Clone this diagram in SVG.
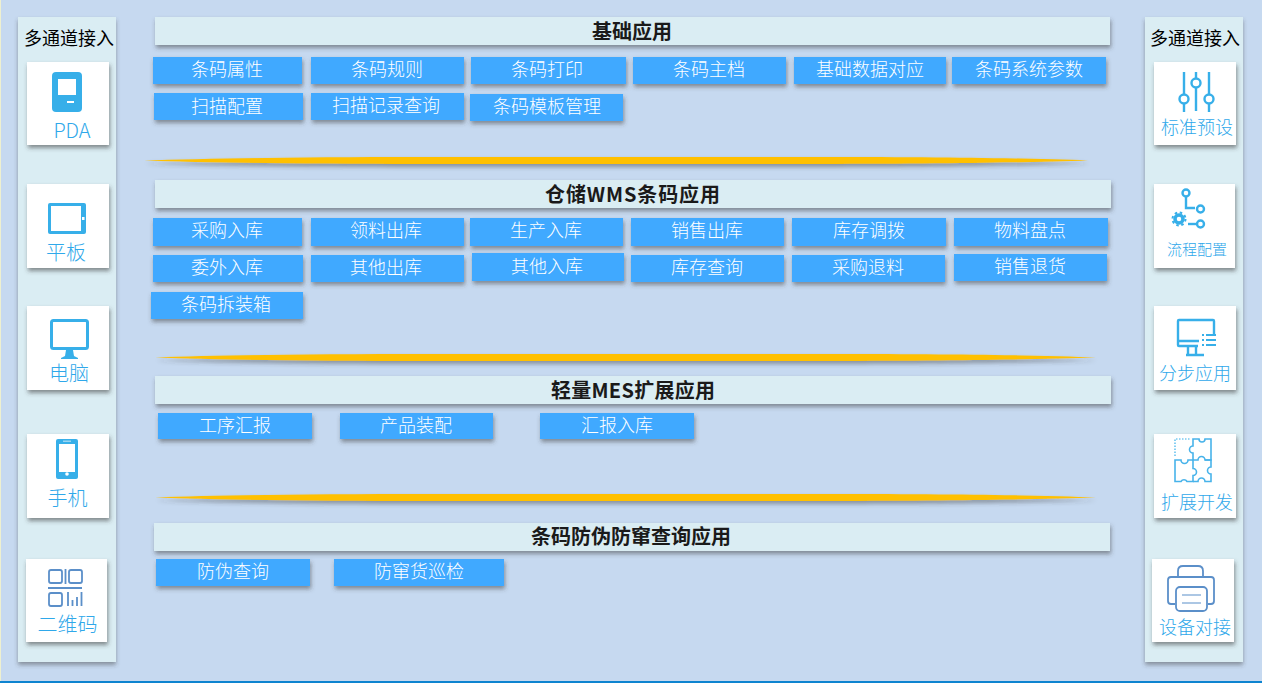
<svg xmlns="http://www.w3.org/2000/svg" width="1262" height="683" viewBox="0 0 1262 683">
<defs>
<filter id="sh" x="-10%" y="-30%" width="120%" height="170%"><feDropShadow dx="1" dy="3" stdDeviation="2" flood-color="#3a3a3a" flood-opacity=".5"/></filter>
<filter id="shp" x="-20%" y="-5%" width="140%" height="110%"><feDropShadow dx="0" dy="3" stdDeviation="2.2" flood-color="#3a3a3a" flood-opacity=".45"/></filter>
<filter id="shc" x="-15%" y="-15%" width="130%" height="130%"><feDropShadow dx="1" dy="3" stdDeviation="2" flood-color="#3a3a3a" flood-opacity=".55"/></filter>
<filter id="shg" x="-2%" y="-150%" width="104%" height="500%"><feDropShadow dx="1" dy="3" stdDeviation="2" flood-color="#3a3a3a" flood-opacity=".45"/></filter>
</defs>
<style>
text{font-family:"Noto Sans CJK SC","Noto Sans",sans-serif;text-anchor:middle}
.p{fill:#DAEDF3;filter:url(#shp)}
.c{fill:#fff;filter:url(#shc)}
.t{fill:#DAEDF3;filter:url(#sh)}
.tt{font-size:20px;font-weight:700;fill:#1a1a1a;transform:translateY(1px)}
.b{fill:#3FA9FF;filter:url(#sh)}
.bt{font-size:18px;fill:#fff;font-weight:300;transform:translate(-1px,1px)}
.h{font-size:18px;fill:#000;font-weight:400;transform:translateY(1px)}
.l{font-size:20px;fill:#2FA8EA;font-weight:300}
.r{font-size:18px;fill:#2FA8EA;font-weight:300}
.g{fill:#FFC000;filter:url(#shg)}
.ic{fill:#37AFE9}
.s{fill:none;stroke:#37AFE9;stroke-width:2.4}
.z{fill:none;stroke:#48B3EA;stroke-width:1.600}
.q{fill:none;stroke:#5B8FC9;stroke-width:1.800}
</style>
<rect width="1262" height="683" fill="#C6D9F0"/>
<rect width="1" height="683" fill="#EEF0D0"/>
<rect y="681" width="1262" height="2" fill="#0E84D0"/>

<g id="left-panel">
<rect class="p" x="18" y="17" width="98" height="645"/>
<text class="h" x="69" y="44">多通道接入</text>
</g>
<g id="right-panel">
<rect class="p" x="1145" y="17" width="98" height="645"/>
<text class="h" x="1195" y="44">多通道接入</text>
</g>

<g id="card-pda"><rect class="c" x="27" y="62" width="82" height="83"/>
<rect class="ic" x="52" y="72" width="30" height="40" rx="4"/><rect x="58" y="79" width="18" height="16" fill="#fff"/><rect x="67" y="101" width="7" height="2" fill="#fff"/>
<text class="l" x="72" y="138">PDA</text></g>
<g id="card-tablet"><rect class="c" x="27" y="184" width="82" height="84"/>
<rect class="ic" x="48" y="203" width="38" height="31" rx="2"/><rect x="51" y="206" width="30" height="25" fill="#fff"/><rect x="82" y="217" width="2.500" height="3" fill="#fff"/>
<text class="l" x="66" y="260">平板</text></g>
<g id="card-pc"><rect class="c" x="27" y="306" width="82" height="84"/>
<rect x="51.500" y="320.500" width="36" height="28" rx="2" fill="#fff" stroke="#37AFE9" stroke-width="3"/><path class="ic" d="M66 350h7l1 6 4 2v1H61v-1l4-2z"/>
<text class="l" x="69" y="381">电脑</text></g>
<g id="card-phone"><rect class="c" x="27" y="434" width="82" height="84"/>
<rect class="ic" x="56" y="439" width="22" height="40" rx="2"/><rect x="59" y="444" width="16" height="28" fill="#fff"/><circle cx="67" cy="474" r="1.800" fill="#fff"/><rect x="63" y="440.500" width="8" height="1.500" fill="#9ad5f2"/>
<text class="l" x="67.500" y="506">手机</text></g>
<g id="card-qr"><rect class="c" x="26" y="559" width="81" height="83"/>
<rect class="q" x="49" y="570" width="13" height="13" rx="2"/><rect class="q" x="69" y="570" width="13" height="13" rx="2"/><path class="q" d="M65.500 569v15M48 588h34"/><rect class="q" x="49" y="593" width="13" height="13" rx="2"/><path class="q" d="M68 592v14M72.500 600v6M77 597v9M81.500 592v14"/>
<text class="l" x="67.500" y="632">二维码</text></g>

<g id="card-preset"><rect class="c" x="1154" y="62" width="82" height="83"/>
<path class="s" d="M1184 72v22m0 10v8M1196 72v6m0 10v23M1209 72v22m0 10v8"/>
<circle class="s" cx="1184" cy="99" r="4.500"/><circle class="s" cx="1196" cy="83" r="4.500"/><circle class="s" cx="1209" cy="99" r="4.500"/>
<text class="r" x="1197" y="134">标准预设</text></g>
<g id="card-flow"><rect class="c" x="1154" y="184" width="81" height="84"/>
<circle class="s" cx="1186" cy="193" r="3.500"/><path class="s" stroke-width="3" d="M1186 197v11h9"/><circle class="s" cx="1200.500" cy="209" r="3.500"/><path class="s" stroke-width="3" d="M1188 224h8"/><circle class="s" cx="1200.500" cy="224" r="3.500"/>
<circle cx="1179" cy="219" r="4" fill="none" stroke="#37AFE9" stroke-width="3.500"/><circle cx="1179" cy="219" r="6.500" fill="none" stroke="#37AFE9" stroke-width="2" stroke-dasharray="2.500 2.600"/>
<text x="1197" y="255" font-size="15" fill="#2FA8EA" font-weight="300">流程配置</text></g>
<g id="card-step"><rect class="c" x="1154" y="306" width="82" height="84"/>
<path class="s" stroke-width="2.500" d="M1214 334v-13q0-1-1-1h-34q-1 0-1 1v24q0 1 1 1h19M1178 341h21M1188 347v8M1196 347v8M1186 355h18"/>
<path class="ic" d="M1202 334h2v2h-2zM1206 334h10v2h-10zM1202 339h2v2h-2zM1206 339h10v2h-10zM1202 344h2v2h-2zM1206 344h10v2h-10z"/>
<text class="r" x="1195" y="380">分步应用</text></g>
<g id="card-ext"><rect class="c" x="1154" y="434" width="82" height="84"/>
<path fill="none" stroke="#37AFE9" stroke-width="1.200" stroke-dasharray="1.500 1.500" d="M1175 456v-17h15"/>
<path class="z" d="M1193 439v7a3.500 3.500 0 1 0 0 7v7h5a3.500 3.500 0 1 1 7 0h6v-21h-6a3 3 0 0 1-6 0z"/>
<path class="z" d="M1175 460v21.500h6a3.500 3.500 0 0 1 6 0h6v-6a3.500 3.500 0 1 0 0-7v-8.500h-5a3.500 3.500 0 0 1-7 0v-.001h-6z"/>
<path class="z" d="M1193 481.500h5a3.500 3.500 0 0 1 7 0h6v-7.500a3.500 3.500 0 0 1 0-7v-7h-6"/>
<text class="r" x="1197" y="509">扩展开发</text></g>
<g id="card-device"><rect class="c" x="1152" y="559" width="82" height="83"/>
<path class="q" d="M1178 577v-6q0-5 5-5h15q5 0 5 5v6"/><path class="q" d="M1175 604h-4q-3 0-3-3v-21q0-3 3-3h40q3 0 3 3v21q0 3-3 3h-3"/><rect class="q" x="1176" y="587" width="31" height="24" rx="4"/>
<path fill="none" stroke="#5B8FC9" stroke-width="1.200" d="M1182 595h19M1182 603h19"/>
<text class="r" x="1195" y="634">设备对接</text></g>

<g id="section-basic"><rect class="t" x="155" y="17" width="955" height="28"/><text class="tt" x="632" y="38">基础应用</text></g>
<g id="section-wms"><rect class="t" x="155" y="180" width="956" height="28"/><text class="tt" x="632.500" y="201" textLength="175">仓储WMS条码应用</text></g>
<g id="section-mes"><rect class="t" x="155" y="376" width="956" height="28"/><text class="tt" x="633" y="397" textLength="164">轻量MES扩展应用</text></g>
<g id="section-anti"><rect class="t" x="154" y="523" width="956" height="28"/><text class="tt" x="631" y="543">条码防伪防窜查询应用</text></g>

<g id="dividers">
<path class="g" d="M144 160.500C200 158.500 300 157 420 157H820C950 157 1040 158.500 1088 160.500C1040 162 950 164 820 164H420C300 164 200 162.500 144 160.500z"/>
<path class="g" d="M155 357.500C210 355.500 310 354 430 354H830C960 354 1050 355.500 1096 357.500C1050 359 960 361 830 361H430C310 361 210 359.500 155 357.500z"/>
<path class="g" d="M155 497.500C210 495.500 310 494 430 494H830C960 494 1050 495.500 1096 497.500C1050 499 960 501 830 501H430C310 501 210 499.500 155 497.500z"/>
</g>

<g id="n1"><rect class="b" x="153" y="57" width="149" height="27"/><text class="bt" x="228" y="75">条码属性</text></g>
<g id="n2"><rect class="b" x="311" y="57" width="153" height="27"/><text class="bt" x="388" y="75">条码规则</text></g>
<g id="n3"><rect class="b" x="471" y="57" width="155" height="27"/><text class="bt" x="548" y="75">条码打印</text></g>
<g id="n4"><rect class="b" x="633" y="57" width="153" height="27"/><text class="bt" x="710" y="75">条码主档</text></g>
<g id="n5"><rect class="b" x="794" y="57" width="152" height="27"/><text class="bt" x="871" y="75">基础数据对应</text></g>
<g id="n6"><rect class="b" x="952" y="57" width="154" height="27"/><text class="bt" x="1030" y="75">条码系统参数</text></g>
<g id="n7"><rect class="b" x="154" y="93" width="149" height="27"/><text class="bt" x="228" y="112">扫描配置</text></g>
<g id="n8"><rect class="b" x="311" y="93" width="153" height="27"/><text class="bt" x="387" y="111">扫描记录查询</text></g>
<g id="n9"><rect class="b" x="470" y="94" width="153" height="27"/><text class="bt" x="548" y="112">条码模板管理</text></g>

<g id="n10"><rect class="b" x="153" y="218" width="149" height="28"/><text class="bt" x="228" y="236">采购入库</text></g>
<g id="n11"><rect class="b" x="311" y="218" width="153" height="28"/><text class="bt" x="387" y="236">领料出库</text></g>
<g id="n12"><rect class="b" x="470" y="218" width="153" height="28"/><text class="bt" x="547" y="236">生产入库</text></g>
<g id="n13"><rect class="b" x="631" y="218" width="153" height="28"/><text class="bt" x="708" y="236">销售出库</text></g>
<g id="n14"><rect class="b" x="792" y="218" width="154" height="28"/><text class="bt" x="870" y="236">库存调拨</text></g>
<g id="n15"><rect class="b" x="954" y="218" width="154" height="28"/><text class="bt" x="1031" y="236">物料盘点</text></g>
<g id="n16"><rect class="b" x="153" y="255" width="150" height="27"/><text class="bt" x="228" y="273">委外入库</text></g>
<g id="n17"><rect class="b" x="311" y="255" width="153" height="27"/><text class="bt" x="387" y="273">其他出库</text></g>
<g id="n18"><rect class="b" x="472" y="253" width="152" height="28"/><text class="bt" x="548" y="272">其他入库</text></g>
<g id="n19"><rect class="b" x="631" y="255" width="153" height="27"/><text class="bt" x="708" y="273">库存查询</text></g>
<g id="n20"><rect class="b" x="792" y="255" width="153" height="27"/><text class="bt" x="869" y="273">采购退料</text></g>
<g id="n21"><rect class="b" x="954" y="254" width="153" height="27"/><text class="bt" x="1031" y="272">销售退货</text></g>
<g id="n22"><rect class="b" x="151" y="292" width="152" height="27"/><text class="bt" x="227" y="310">条码拆装箱</text></g>

<g id="n23"><rect class="b" x="158" y="413" width="154" height="26"/><text class="bt" x="236" y="431">工序汇报</text></g>
<g id="n24"><rect class="b" x="340" y="413" width="153" height="26"/><text class="bt" x="417" y="431">产品装配</text></g>
<g id="n25"><rect class="b" x="540" y="413" width="154" height="26"/><text class="bt" x="618" y="431">汇报入库</text></g>

<g id="n26"><rect class="b" x="156" y="559" width="154" height="27"/><text class="bt" x="234" y="577">防伪查询</text></g>
<g id="n27"><rect class="b" x="334" y="559" width="170" height="27"/><text class="bt" x="420" y="577">防窜货巡检</text></g>

<g id="connectors"></g>
</svg>
